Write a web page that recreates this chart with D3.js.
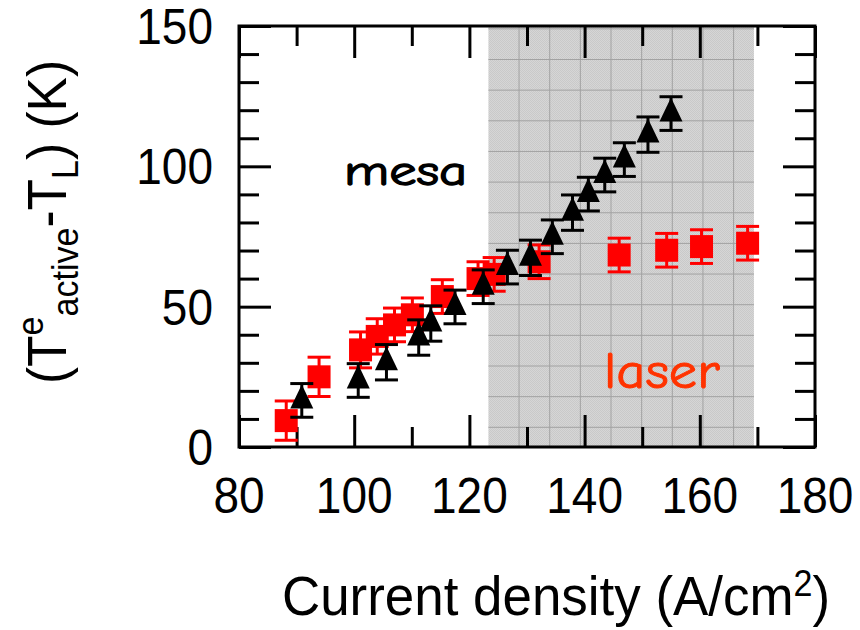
<!DOCTYPE html>
<html>
<head>
<meta charset="utf-8">
<script src="https://cdn.jsdelivr.net/npm/d3@7"></script>
<style>
  html, body { margin: 0; padding: 0; background: #fff; }
  svg { display: block; }
</style>
</head>
<body>
<svg id="chart" width="860" height="630"></svg>
<script>
// Current density (A/cm^2) and electron temperature rise (K) for the two devices
const mesaX   = [90.9, 100.7, 105.6, 111.2, 113.3, 117.5, 122.4, 126.6, 130.6, 134.4, 137.9, 140.65, 143.5, 146.9, 151.0, 155.0];
const mesaY   = [16.6, 23.7, 30.2, 39.0, 44.0, 49.9, 57.1, 64.1, 67.4, 74.9, 83.5, 90.1, 96.9, 102.4, 111.3, 118.8];
const mesaErr = [6, 6, 6.3, 6.3, 6.3, 6, 6, 6, 6.3, 6, 6.3, 6, 6, 6, 6.3, 6];

const laserX   = [88.2, 93.9, 101.1, 104.0, 107.0, 110.1, 115.3, 121.5, 124.3, 132.1, 146.0, 154.25, 160.3, 168.3];
const laserY   = [9.4, 25.0, 34.6, 39.4, 43.5, 47.1, 53.6, 60.0, 61.5, 66.0, 68.4, 70.1, 71.4, 72.6];
const laserErr = [7, 7, 6.4, 6.3, 6, 6, 6, 6, 6, 6, 6, 6, 6, 6];

// Current range where the device lases
const lasingRange = [123.3, 169.4];

const xDomain = [80, 180];
const yDomain = [0, 150];
const xMajor = [80, 100, 120, 140, 160, 180];
const xMinor = [90, 110, 130, 150, 170];
const yMajor = [0, 50, 100, 150];
const yMinor = [10, 20, 30, 40, 60, 70, 80, 90, 110, 120, 130, 140];

const svg = d3.select("#chart");
const plotL = 239, plotR = 815, plotT = 26, plotB = 447;

const x = d3.scaleLinear().domain(xDomain).range([plotL, plotR]);
const y = d3.scaleLinear().domain(yDomain).range([plotB, plotT]);

const defs = svg.append("defs");
// fine two-tone grain for the shaded band
const grain = defs.append("pattern")
  .attr("id", "grain").attr("patternUnits", "userSpaceOnUse")
  .attr("width", 2).attr("height", 2);
grain.append("rect").attr("width", 2).attr("height", 2).attr("fill", "#d6d6d6");
grain.append("rect").attr("width", 1).attr("height", 1).attr("fill", "#c9c9c9");
grain.append("rect").attr("x", 1).attr("y", 1).attr("width", 1).attr("height", 1).attr("fill", "#c9c9c9");

// shaded lasing band
const bandX0 = x(lasingRange[0]), bandX1 = x(lasingRange[1]);
svg.append("rect")
  .attr("x", bandX0).attr("y", plotT)
  .attr("width", bandX1 - bandX0).attr("height", plotB - plotT)
  .attr("fill", "url(#grain)");

// grid hatching inside the band
const step = 30.65;
const band = svg.append("g").attr("stroke", "#a2a2a2").attr("stroke-width", 1);
d3.range(bandX0 + step, bandX1 - 2, step).forEach(gx => {
  band.append("line").attr("x1", gx).attr("x2", gx).attr("y1", plotT).attr("y2", plotB);
});
d3.range(plotB - 19.7, plotT + 2, -step).forEach(gy => {
  band.append("line").attr("x1", bandX0).attr("x2", bandX1).attr("y1", gy).attr("y2", gy);
});

// inward ticks on all four sides
function styleAxis(g) {
  g.select(".domain").remove();
  g.selectAll(".tick line").attr("stroke", "#000").attr("stroke-width", 3);
  g.selectAll(".tick text").remove();
}
const axes = [
  [d3.axisBottom(x).tickValues(xMajor).tickSize(-32), `translate(0,${plotB})`],
  [d3.axisBottom(x).tickValues(xMinor).tickSize(-20), `translate(0,${plotB})`],
  [d3.axisTop(x).tickValues(xMajor).tickSize(-32), `translate(0,${plotT})`],
  [d3.axisTop(x).tickValues(xMinor).tickSize(-20), `translate(0,${plotT})`],
  [d3.axisLeft(y).tickValues(yMajor).tickSize(-32), `translate(${plotL},0)`],
  [d3.axisLeft(y).tickValues(yMinor).tickSize(-20), `translate(${plotL},0)`],
  [d3.axisRight(y).tickValues(yMajor).tickSize(-32), `translate(${plotR},0)`],
  [d3.axisRight(y).tickValues(yMinor).tickSize(-20), `translate(${plotR},0)`]
];
axes.forEach(([ax, tr]) => svg.append("g").attr("transform", tr).call(ax).call(styleAxis));

// frame
svg.append("rect")
  .attr("x", plotL).attr("y", plotT)
  .attr("width", plotR - plotL).attr("height", plotB - plotT)
  .attr("fill", "none").attr("stroke", "#000").attr("stroke-width", 3);

// tick labels
const labelFont = "'Liberation Sans', Arial, Helvetica, sans-serif";
svg.append("g").selectAll("text").data(xMajor).join("text")
  .attr("transform", d => `translate(${x(d)},513) scale(0.92,1)`)
  .attr("text-anchor", "middle")
  .attr("font-family", labelFont).attr("font-size", 50)
  .text(d => d);
svg.append("g").selectAll("text").data(yMajor).join("text")
  .attr("transform", d => `translate(213,${y(d) + 18}) scale(0.92,1)`)
  .attr("text-anchor", "end")
  .attr("font-family", labelFont).attr("font-size", 50)
  .text(d => d);

// axis titles
const xt = svg.append("text")
  .attr("transform", "translate(556,615) scale(0.945,1)")
  .attr("text-anchor", "middle")
  .attr("font-family", labelFont).attr("font-size", 56);
xt.append("tspan").text("Current density (A/cm");
xt.append("tspan").attr("font-size", 36).attr("dy", -19).text("2");
xt.append("tspan").attr("dy", 19).text(")");

const yt = svg.append("text")
  .attr("transform", "translate(66,222) rotate(-90) scale(0.92,1)")
  .attr("text-anchor", "middle")
  .attr("font-family", labelFont).attr("font-size", 56);
yt.append("tspan").text("(T");
yt.append("tspan").attr("font-size", 37).attr("dy", -23).text("e");
yt.append("tspan").attr("font-size", 37).attr("dy", 35).text("active");
yt.append("tspan").attr("dy", -12).text("-T");
yt.append("tspan").attr("font-size", 37).attr("dy", 12).text("L");
yt.append("tspan").attr("dy", -12).text(") (K)");

// error bars
function errorBars(xs, ys, es, color) {
  const g = svg.append("g").attr("stroke", color).attr("stroke-width", 3);
  xs.forEach((xv, i) => {
    const cx = x(xv), y0 = y(ys[i] - es[i]), y1 = y(ys[i] + es[i]);
    g.append("line").attr("x1", cx).attr("x2", cx).attr("y1", y0).attr("y2", y1);
    g.append("line").attr("x1", cx - 11.5).attr("x2", cx + 11.5).attr("y1", y0).attr("y2", y0);
    g.append("line").attr("x1", cx - 11.5).attr("x2", cx + 11.5).attr("y1", y1).attr("y2", y1);
  });
}

// laser: red squares
errorBars(laserX, laserY, laserErr, "#ff0000");
svg.append("g").selectAll("rect").data(laserX).join("rect")
  .attr("x", (d) => x(d) - 11.5)
  .attr("y", (d, i) => y(laserY[i]) - 11.5)
  .attr("width", 23).attr("height", 23)
  .attr("fill", "#ff0000");

// mesa: black triangles centred on their centroid
const tallTriangle = {
  draw(ctx) {
    const w = 23, h = 24;
    ctx.moveTo(0, -2 * h / 3);
    ctx.lineTo(w / 2, h / 3);
    ctx.lineTo(-w / 2, h / 3);
    ctx.closePath();
  }
};
errorBars(mesaX, mesaY, mesaErr, "#000");
svg.append("g").selectAll("path").data(mesaX).join("path")
  .attr("transform", (d, i) => `translate(${x(d)},${y(mesaY[i])})`)
  .attr("d", d3.symbol().type(tallTriangle)())
  .attr("fill", "#000");

// series annotations
const handFont = "'Comic Sans MS', 'Comic Neue', 'DejaVu Sans', sans-serif";
svg.append("text")
  .attr("transform", "translate(344,185) scale(1.3,1)")
  .attr("font-family", handFont).attr("font-size", 42)
  .attr("fill", "#000").attr("stroke", "#000").attr("stroke-width", 1.3)
  .text("mesa");
svg.append("text")
  .attr("transform", "translate(604,388) scale(1.13,1)")
  .attr("font-family", handFont).attr("font-size", 50)
  .attr("fill", "#ff3300").attr("stroke", "#ff3300").attr("stroke-width", 1)
  .text("laser");
</script>
</body>
</html>
